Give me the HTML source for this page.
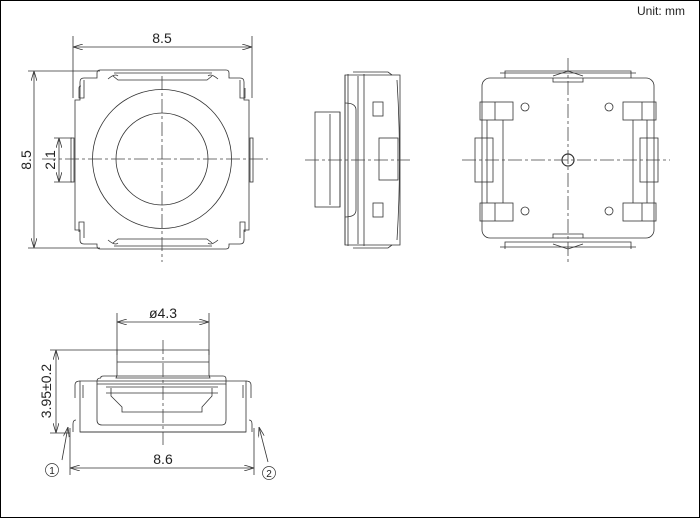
<!DOCTYPE html>
<html><head><style>
html,body{margin:0;padding:0;background:#fff;}
svg{display:block;}
text{font-family:"Liberation Sans",sans-serif;fill:#222;}
</style></head><body>
<svg width="700" height="518" viewBox="0 0 700 518" xmlns="http://www.w3.org/2000/svg">
<defs>
<marker id="a" markerWidth="10" markerHeight="6" refX="10" refY="3" orient="auto-start-reverse" markerUnits="userSpaceOnUse"><path d="M0,0 L10,3 L0,6" fill="none" stroke="#333" stroke-width="0.8"/></marker>
</defs>
<rect x="0.5" y="0.5" width="699" height="517" fill="#fff" stroke="#000" stroke-width="1"/>
<text x="637" y="15" font-size="12">Unit: mm</text>

<g fill="none" stroke="#333" stroke-width="0.8">
<line x1="73" y1="36" x2="73" y2="98"/><line x1="252" y1="36" x2="252" y2="98"/>
<line x1="73" y1="47" x2="252" y2="47" marker-start="url(#a)" marker-end="url(#a)"/>
<line x1="28" y1="71" x2="100" y2="71"/><line x1="28" y1="248" x2="100" y2="248"/>
<line x1="34" y1="71" x2="34" y2="248" marker-start="url(#a)" marker-end="url(#a)"/>
<line x1="54" y1="138" x2="72" y2="138"/><line x1="54" y1="182" x2="72" y2="182"/>
<line x1="59" y1="138" x2="59" y2="182" marker-start="url(#a)" marker-end="url(#a)"/>
<path d="M100,70 H226 Q229,70 229,73 V78 H240 Q244,78 244,82 V100 H249 V230 H244 V240 Q244,244 240,244 H229 V246 Q229,249 226,249 H100 Q97,249 97,246 V244 H84 Q80,244 80,240 V230 H75 V100 H80 V82 Q80,78 84,78 H97 V73 Q97,70 100,70 Z"/>
<path d="M84,80 V98 H79 V88 Q79,86 81,86 M240,80 V98 H245 V88"/>
<path d="M84,238 V222 H79 V232 M240,238 V222 H245 V232"/>
<path d="M114,73 H212 M113,76 L118,80 L207,80 L212,76 M114,246 H212 M113,243 L118,239 L207,239 L212,243"/>
<path d="M108,79 Q115,73 118,76 M108,240 Q115,246 118,243 M218,79 Q211,73 208,76 M218,240 Q211,246 208,243"/>
<rect x="71" y="138" width="3" height="44"/><rect x="250" y="138" width="3" height="44"/>
<circle cx="162" cy="159" r="69.5"/>
<circle cx="162" cy="159" r="46"/>

<rect x="315" y="112" width="25" height="95"/>
<line x1="330" y1="114" x2="330" y2="205"/>
<path d="M340,112 V207 M345,103 Q356,103 356,110 V210 Q356,217 345,217"/>
<path d="M345,75 L400,75 V245 L345,245 Z"/>
<path d="M345,75 V245 M348,74 V246 M353,72 H388 L392,75 M353,248 H388 L392,245"/>
<path d="M358,76 V244 M364,74 V246"/>
<rect x="373" y="102" width="10" height="14"/><rect x="373" y="203" width="10" height="14"/>
<rect x="379" y="138" width="19" height="42"/>
<path d="M397,80 Q402,160 397,240"/>

<rect x="482" y="78" width="172" height="160" rx="8"/>
<path d="M505,78 V71 H631 V78 M500,73 H636 M505,249 V242 H631 V249 M500,247 H636"/>
<path d="M553,78 V82 H583 V78 M553,238 V234 H583 V238 M553,76 L568,71 L583,76 M553,244 L568,249 L583,244"/>
<rect x="480" y="102" width="33" height="18"/><rect x="480" y="203" width="33" height="18"/>
<rect x="623" y="102" width="33" height="18"/><rect x="623" y="203" width="33" height="18"/>
<line x1="495" y1="102" x2="495" y2="120"/><line x1="495" y1="203" x2="495" y2="221"/>
<line x1="642" y1="102" x2="642" y2="120"/><line x1="642" y1="203" x2="642" y2="221"/>
<rect x="475" y="138" width="18" height="44"/><rect x="640" y="138" width="18" height="44"/>
<path d="M487,120 V203 M503,120 V203 M633,120 V203 M647,120 V203"/>
<circle cx="525" cy="107" r="4"/><circle cx="609" cy="107" r="4"/>
<circle cx="525" cy="211" r="4"/><circle cx="609" cy="211" r="4"/>
<circle cx="568" cy="160" r="6" stroke-width="1.2"/>

<line x1="117" y1="313" x2="117" y2="355"/><line x1="209" y1="313" x2="209" y2="355"/>
<line x1="117" y1="322" x2="209" y2="322" marker-start="url(#a)" marker-end="url(#a)"/>
<line x1="50" y1="350" x2="117" y2="350"/><line x1="50" y1="433" x2="70" y2="433"/>
<line x1="56" y1="350" x2="56" y2="433" marker-start="url(#a)" marker-end="url(#a)"/>
<line x1="70" y1="428" x2="70" y2="475"/><line x1="254" y1="428" x2="254" y2="475"/>
<line x1="70" y1="468" x2="254" y2="468" marker-start="url(#a)" marker-end="url(#a)"/>
<path d="M117,350 H209 V375 L210,378 H116 L117,375 Z M117,362 H209"/>
<path d="M101,378 Q100,376 104,376 H223 Q226,376 226,379 V384 H97 V381 Q97,378 101,378"/>
<path d="M80,381 H246 V432 H80 Z"/>
<path d="M80,381 Q75,381 75,385 V398 M246,381 Q251,381 251,385 V398 M76,420 Q73,420 73,424 V432 M249,420 Q252,420 252,424 V432"/>
<path d="M97,384 V420 Q97,425 102,425 H222 Q226,425 226,420 V384"/>
<path d="M111,388 V396 L122,407 V412 H202 V407 L212,396 V388"/>
<path d="M106,387 H218 M106,393 H218"/>
<path d="M83,385 V398 M243,385 V398"/>
<line x1="80" y1="432" x2="246" y2="432"/>
<line x1="62" y1="460" x2="68" y2="427" marker-end="url(#a)"/>
<line x1="268" y1="462" x2="259" y2="427" marker-end="url(#a)"/>
</g>

<g fill="none" stroke="#444" stroke-width="0.8" stroke-dasharray="14,3,3,3">
<line x1="162" y1="76" x2="162" y2="262"/><line x1="42" y1="159" x2="268" y2="159"/>
<line x1="305" y1="160" x2="410" y2="160"/>
<line x1="568" y1="58" x2="568" y2="262"/><line x1="462" y1="160" x2="670" y2="160"/>
<line x1="163" y1="340" x2="163" y2="445"/>
</g>

<text x="162" y="43" font-size="14" text-anchor="middle">8.5</text>
<text transform="translate(31,160) rotate(-90)" font-size="14" text-anchor="middle">8.5</text>
<text transform="translate(55,160) rotate(-90)" font-size="14" text-anchor="middle">2.1</text>
<text x="163" y="318" font-size="14" text-anchor="middle">ø4.3</text>
<text transform="translate(51,391) rotate(-90)" font-size="14" text-anchor="middle">3.95±0.2</text>
<text x="163" y="464" font-size="14" text-anchor="middle">8.6</text>
<circle cx="52" cy="470" r="6.5" fill="none" stroke="#333" stroke-width="0.7"/>
<text x="52" y="474" font-size="10" text-anchor="middle">1</text>
<circle cx="269" cy="473" r="6.5" fill="none" stroke="#333" stroke-width="0.7"/>
<text x="269" y="477" font-size="10" text-anchor="middle">2</text>
</svg>
</body></html>
